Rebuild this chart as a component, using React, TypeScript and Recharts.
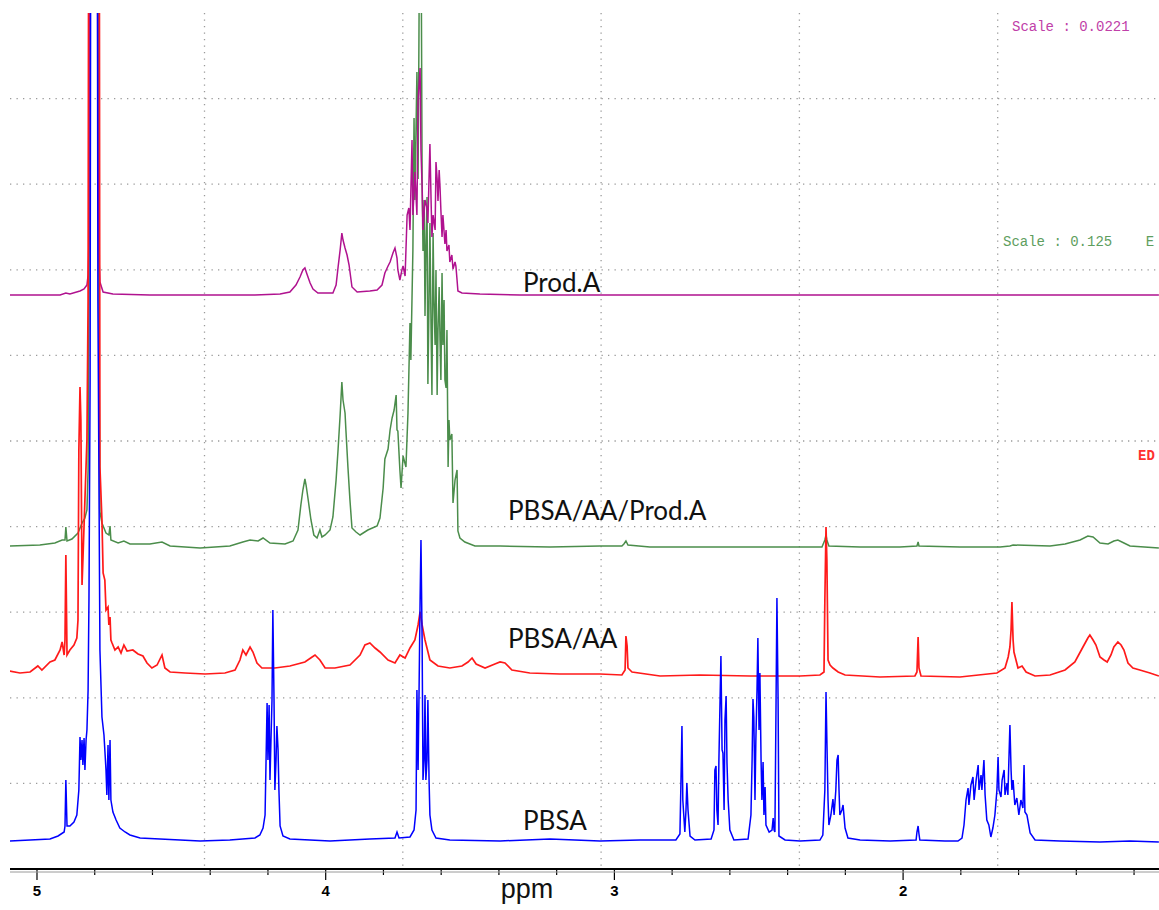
import { LineChart, Line, XAxis, YAxis, CartesianGrid } from 'recharts'

// ─── spectra: [ppm, intensity above own baseline] ───────────────────────────

const pbsa: [number, number][] = [
  [5.094, -1], [5.024, 0], [4.955, 1], [4.927, 4], [4.906, 8], [4.903, 14], [4.9, 60], [4.896, 14], [4.886, 14],
  [4.872, 18], [4.862, 25], [4.855, 50], [4.851, 103], [4.848, 80], [4.844, 100], [4.841, 75], [4.837, 102],
  [4.834, 70], [4.83, 100], [4.827, 110], [4.823, 150], [4.82, 240], [4.816, 460], [4.813, 1140], [4.792, 1140],
  [4.789, 540], [4.782, 190], [4.775, 123], [4.768, 105], [4.761, 70], [4.758, 45], [4.754, 95], [4.751, 40],
  [4.747, 100], [4.744, 40], [4.737, 28], [4.726, 20], [4.713, 12], [4.695, 8], [4.678, 5], [4.643, 2], [4.574, 1],
  [4.435, -1], [4.332, 0], [4.245, 2], [4.228, 5], [4.217, 12], [4.21, 25], [4.203, 137], [4.2, 80], [4.196, 135],
  [4.193, 60], [4.186, 140], [4.183, 230], [4.179, 140], [4.176, 50], [4.172, 80], [4.169, 114], [4.165, 90],
  [4.162, 50], [4.158, 14], [4.148, 4], [4.124, 1], [3.985, -1], [3.847, 1], [3.76, 2], [3.753, 8], [3.746, 2],
  [3.708, 3], [3.694, 10], [3.687, 30], [3.684, 150], [3.68, 70], [3.677, 140], [3.673, 240], [3.67, 300],
  [3.666, 200], [3.663, 60], [3.659, 80], [3.656, 145], [3.653, 60], [3.649, 80], [3.646, 140], [3.642, 60],
  [3.639, 25], [3.632, 10], [3.618, 2], [3.57, 0], [3.396, -1], [3.223, 1], [3.05, -1], [2.911, 0], [2.787, 0],
  [2.773, 6], [2.77, 50], [2.766, 114], [2.763, 40], [2.756, 8], [2.752, 30], [2.749, 57], [2.745, 30], [2.738, 4],
  [2.721, 0], [2.665, 1], [2.655, 10], [2.652, 70], [2.648, 74], [2.645, 30], [2.641, 15], [2.638, 80], [2.634, 140],
  [2.631, 184], [2.627, 90], [2.624, 87], [2.62, 30], [2.617, 120], [2.613, 144], [2.61, 77], [2.606, 40], [2.6, 10],
  [2.586, 0], [2.537, 1], [2.527, 25], [2.523, 80], [2.52, 141], [2.517, 123], [2.513, 40], [2.51, 100], [2.506, 150],
  [2.503, 202], [2.499, 110], [2.496, 167], [2.492, 80], [2.489, 40], [2.485, 78], [2.482, 25], [2.478, 53],
  [2.475, 15], [2.464, 8], [2.454, 10], [2.45, 22], [2.447, 10], [2.444, 8], [2.44, 140], [2.437, 242], [2.433, 140],
  [2.43, 4], [2.409, 0], [2.357, -1], [2.288, 0], [2.278, 5], [2.271, 50], [2.267, 148], [2.264, 100], [2.26, 40],
  [2.257, 15], [2.25, 25], [2.243, 41], [2.239, 25], [2.233, 50], [2.229, 80], [2.225, 85], [2.222, 50], [2.219, 25],
  [2.212, 30], [2.208, 35], [2.201, 12], [2.191, 2], [2.149, 0], [2.045, -1], [1.955, 0], [1.952, 8], [1.948, 14],
  [1.945, 6], [1.942, 0], [1.855, -1], [1.81, -1], [1.796, 2], [1.789, 15], [1.782, 40], [1.775, 52], [1.772, 35],
  [1.765, 55], [1.758, 63], [1.754, 40], [1.747, 60], [1.74, 75], [1.737, 50], [1.73, 65], [1.727, 50], [1.72, 80],
  [1.716, 45], [1.71, 20], [1.703, 15], [1.696, 3], [1.689, 12], [1.682, 25], [1.675, 50], [1.671, 83], [1.668, 50],
  [1.661, 43], [1.657, 60], [1.65, 70], [1.647, 45], [1.64, 57], [1.637, 45], [1.63, 115], [1.626, 70], [1.623, 50],
  [1.619, 60], [1.613, 35], [1.606, 42], [1.599, 25], [1.592, 40], [1.585, 32], [1.581, 75], [1.578, 28], [1.571, 25],
  [1.56, 7], [1.543, 0], [1.457, -1], [1.318, -2], [1.214, -1], [1.114, -2],
]

const pbsaAA: [number, number][] = [
  [5.094, 5], [5.059, 3], [5.024, 4], [4.997, 10], [4.983, 6], [4.955, 14], [4.938, 16], [4.92, 26], [4.913, 34],
  [4.906, 21], [4.903, 36], [4.9, 121], [4.896, 21], [4.886, 26], [4.872, 31], [4.862, 38], [4.858, 56], [4.855, 226],
  [4.851, 289], [4.848, 256], [4.844, 91], [4.841, 116], [4.834, 176], [4.827, 236], [4.823, 376], [4.82, 976],
  [4.785, 976], [4.782, 209], [4.775, 156], [4.771, 103], [4.765, 96], [4.761, 66], [4.754, 69], [4.751, 51],
  [4.747, 59], [4.744, 36], [4.74, 33], [4.73, 26], [4.719, 29], [4.709, 23], [4.699, 31], [4.688, 25], [4.668, 26],
  [4.65, 22], [4.633, 20], [4.619, 13], [4.602, 8], [4.584, 11], [4.567, 21], [4.557, 8], [4.539, 4], [4.487, 3],
  [4.418, 2], [4.349, 3], [4.314, 6], [4.297, 16], [4.287, 26], [4.276, 21], [4.262, 29], [4.252, 24], [4.238, 13],
  [4.221, 8], [4.176, 8], [4.124, 10], [4.072, 14], [4.047, 19], [4.037, 21], [4.02, 16], [4.002, 8], [3.968, 8],
  [3.916, 11], [3.881, 21], [3.864, 31], [3.847, 33], [3.829, 28], [3.812, 24], [3.784, 16], [3.76, 13], [3.743, 21],
  [3.725, 18], [3.708, 28], [3.691, 36], [3.68, 51], [3.673, 64], [3.666, 51], [3.656, 36], [3.639, 16], [3.611, 10],
  [3.57, 8], [3.528, 10], [3.507, 14], [3.493, 18], [3.479, 12], [3.448, 8], [3.414, 12], [3.396, 14], [3.379, 13],
  [3.355, 6], [3.293, 3], [3.189, 2], [3.05, 2], [2.974, 1], [2.963, 6], [2.96, 40], [2.956, 30], [2.953, 8],
  [2.939, 4], [2.842, 0], [2.704, 1], [2.53, 0], [2.357, 0], [2.288, 1], [2.274, 4], [2.271, 76], [2.267, 149],
  [2.264, 116], [2.26, 16], [2.253, 11], [2.243, 8], [2.225, 4], [2.201, 1], [2.08, -1], [1.959, 0], [1.952, 4],
  [1.948, 39], [1.945, 8], [1.938, 0], [1.803, -1], [1.675, 3], [1.647, 8], [1.636, 19], [1.63, 29], [1.626, 46],
  [1.623, 74], [1.619, 36], [1.616, 24], [1.609, 16], [1.602, 8], [1.588, 10], [1.574, 4], [1.543, 0], [1.491, 1],
  [1.439, 6], [1.405, 14], [1.377, 29], [1.36, 38], [1.353, 41], [1.342, 36], [1.332, 31], [1.318, 19], [1.304, 16],
  [1.293, 14], [1.28, 21], [1.27, 29], [1.256, 34], [1.245, 31], [1.235, 26], [1.221, 13], [1.204, 8], [1.18, 6],
  [1.145, 3], [1.114, 0],
]

const pbsaAAProdA: [number, number][] = [
  [5.094, 0], [4.99, 1], [4.938, 3], [4.913, 6], [4.903, 6], [4.9, 19], [4.896, 5], [4.879, 7], [4.858, 13],
  [4.844, 23], [4.834, 28], [4.827, 36], [4.823, 76], [4.82, 246], [4.816, 846], [4.789, 846], [4.785, 196],
  [4.782, 34], [4.775, 23], [4.761, 13], [4.751, 11], [4.747, 20], [4.744, 6], [4.719, 3], [4.699, 5], [4.678, 2],
  [4.609, 2], [4.567, 4], [4.539, 0], [4.435, -2], [4.332, 0], [4.287, 4], [4.262, 6], [4.234, 5], [4.217, 8],
  [4.193, 3], [4.141, 2], [4.113, 5], [4.096, 16], [4.086, 41], [4.079, 56], [4.072, 67], [4.068, 61], [4.061, 47],
  [4.051, 26], [4.041, 11], [4.03, 8], [4.02, 16], [4.013, 9], [4.002, 11], [3.985, 16], [3.975, 29], [3.964, 66],
  [3.957, 97], [3.95, 131], [3.944, 164], [3.94, 146], [3.933, 133], [3.93, 116], [3.923, 79], [3.916, 46],
  [3.909, 18], [3.895, 14], [3.881, 11], [3.854, 16], [3.822, 20], [3.812, 28], [3.801, 58], [3.795, 87],
  [3.784, 97], [3.777, 116], [3.77, 128], [3.763, 136], [3.756, 151], [3.753, 116], [3.75, 115], [3.743, 76],
  [3.739, 58], [3.732, 90], [3.722, 79], [3.715, 133], [3.708, 223], [3.705, 186], [3.698, 295], [3.694, 428],
  [3.691, 346], [3.684, 474], [3.68, 367], [3.677, 506], [3.673, 746], [3.67, 646], [3.666, 366], [3.663, 295],
  [3.659, 346], [3.656, 230], [3.653, 296], [3.649, 349], [3.646, 162], [3.642, 246], [3.639, 323], [3.635, 216],
  [3.632, 151], [3.628, 313], [3.625, 246], [3.621, 201], [3.618, 276], [3.614, 151], [3.611, 216], [3.607, 259],
  [3.604, 206], [3.601, 166], [3.597, 273], [3.594, 201], [3.59, 246], [3.587, 166], [3.583, 158], [3.58, 216],
  [3.576, 79], [3.573, 126], [3.57, 106], [3.563, 112], [3.559, 43], [3.552, 66], [3.545, 76], [3.542, 15],
  [3.535, 8], [3.518, 4], [3.483, 0], [3.396, 0], [3.223, -1], [3.05, 0], [2.974, 0], [2.967, 2], [2.96, 5],
  [2.953, 1], [2.877, -1], [2.704, -1], [2.496, -1], [2.357, -1], [2.281, -1], [2.271, 6], [2.267, 11], [2.264, 6],
  [2.257, 0], [2.149, -1], [2.011, -1], [1.952, 0], [1.948, 4], [1.945, 0], [1.803, -1], [1.664, -1], [1.63, 0],
  [1.619, 1], [1.491, 0], [1.439, 2], [1.387, 6], [1.36, 10], [1.342, 9], [1.318, 3], [1.29, 2], [1.27, 5],
  [1.256, 6], [1.235, 3], [1.214, 0], [1.114, -2],
]

const prodA: [number, number][] = [
  [5.094, 0], [4.92, 0], [4.9, 2], [4.886, 1], [4.851, 4], [4.837, 6], [4.827, 10], [4.823, 20], [4.82, 55],
  [4.816, 595], [4.792, 595], [4.789, 145], [4.785, 35], [4.782, 13], [4.771, 3], [4.737, 1], [4.609, 0], [4.245, 0],
  [4.158, 1], [4.124, 3], [4.103, 10], [4.089, 18], [4.079, 25], [4.072, 27], [4.065, 21], [4.054, 12], [4.044, 6],
  [4.027, 2], [3.975, 2], [3.964, 10], [3.957, 28], [3.95, 45], [3.944, 62], [3.94, 55], [3.933, 47], [3.926, 40],
  [3.919, 30], [3.909, 8], [3.891, 3], [3.847, 4], [3.822, 5], [3.805, 10], [3.795, 22], [3.784, 29], [3.777, 33],
  [3.767, 42], [3.76, 47], [3.753, 37], [3.75, 25], [3.743, 15], [3.736, 25], [3.732, 29], [3.725, 19], [3.722, 45],
  [3.718, 80], [3.712, 87], [3.708, 65], [3.701, 155], [3.698, 80], [3.691, 123], [3.684, 80], [3.68, 195],
  [3.673, 227], [3.67, 145], [3.666, 108], [3.663, 65], [3.656, 95], [3.649, 87], [3.646, 72], [3.639, 151],
  [3.635, 95], [3.632, 58], [3.628, 80], [3.621, 65], [3.618, 133], [3.614, 116], [3.611, 94], [3.607, 125],
  [3.604, 108], [3.601, 85], [3.597, 58], [3.594, 80], [3.587, 51], [3.583, 65], [3.58, 44], [3.573, 50],
  [3.57, 33], [3.563, 40], [3.559, 26], [3.552, 33], [3.549, 29], [3.545, 15], [3.542, 4], [3.528, 2], [3.466, 1],
  [3.327, 0], [2.704, 0], [2.011, 0], [1.114, 0],
]

const ppmTicks = [5, 4.8, 4.6, 4.4, 4.2, 4, 3.8, 3.6, 3.4, 3.2, 3, 2.8, 2.6, 2.4, 2.2, 2, 1.8, 1.6, 1.4, 1.2]
const ppmDomain: [number, number] = [1.1136, 5.0935]

// ─── layout ──────────────────────────────────────────────────────────────────

const W = 1159
const H = 910
const TOP = 13
const LEFT = 10
const AXIS_H = 41
const PLOT_H = H - TOP - AXIS_H

const hGrid = [1, 2, 3, 4, 5, 6, 7, 8, 9].map((k) => TOP + (k * PLOT_H) / 10)
const vGrid = [0, 1, 2, 3, 4].map((k) => 204.5 + k * 198.3)

const traces = [
  { name: 'PBSA/AA/Prod.A', pts: pbsaAAProdA, offset: 323, color: '#4b8d4b', width: 1.5 },
  { name: 'Prod.A', pts: prodA, offset: 574, color: '#b0128f', width: 1.5 },
  { name: 'PBSA/AA', pts: pbsaAA, offset: 193, color: '#ff1a1a', width: 1.7 },
  { name: 'PBSA', pts: pbsa, offset: 29, color: '#0000ff', width: 1.5 },
]

const toRows = (pts: [number, number][], off: number) => pts.map(([ppm, v]) => ({ ppm, v: v + off }))

function renderPpmTick(props: any) {
  const { x, y, payload } = props
  const v = payload.value as number
  const major = Math.abs(v - Math.round(v)) < 1e-6
  return (
    <g key={`t-${v}`}>
      <line x1={x} x2={x} y1={y} y2={y + (major ? 11 : 6)} stroke="#000" strokeWidth={1.2} />
      {major && (
        <text x={x} y={y + 27} textAnchor="middle" fontWeight={700} fill="#000"
          style={{ fontSize: 15, fontFamily: "'Liberation Sans', Arial, sans-serif" }}>{v}</text>
      )}
    </g>
  )
}

const labelFont = "Lato, 'Open Sans', sans-serif"
const monoFont = "'Liberation Mono', 'DejaVu Sans Mono', monospace"

export default function App() {
  return (
    <div style={{ position: 'absolute', left: 0, top: 0, width: W, height: H, overflow: 'hidden', background: '#fff' }}>
      <LineChart width={W} height={H} margin={{ top: TOP, right: 0, left: LEFT, bottom: 0 }}>
        <CartesianGrid stroke="#9a9a9a" strokeWidth={1.3} strokeDasharray="1.3 5.2"
          horizontalPoints={hGrid} verticalPoints={vGrid} />
        <XAxis type="number" dataKey="ppm" domain={ppmDomain} reversed allowDataOverflow
          ticks={ppmTicks} interval={0} height={AXIS_H} tickSize={0} tickMargin={0}
          axisLine={{ stroke: '#000', strokeWidth: 2 }} tickLine={false} tick={renderPpmTick} />
        <YAxis type="number" domain={[0, PLOT_H]} hide allowDataOverflow width={0} />
        {traces.map((t) => (
          <Line key={t.name} data={toRows(t.pts, t.offset)} dataKey="v" type="linear" stroke={t.color}
            strokeWidth={t.width} dot={false} activeDot={false} isAnimationActive={false} />
        ))}
      </LineChart>
      <svg width={W} height={H} style={{ position: 'absolute', left: 0, top: 0, pointerEvents: 'none' }}>
        <line x1={LEFT} x2={W} y1={872} y2={872} stroke="#9a9a9a" strokeWidth={1} />
        <text x={527} y={898} textAnchor="middle" fontSize={27} fontFamily="'Liberation Sans', Arial, sans-serif" fill="#111">ppm</text>
        <text x={523} y={292} fontSize={26} fontFamily={labelFont} fill="#111">Prod.A</text>
        <text x={508} y={520} fontSize={26} fontFamily={labelFont} fill="#111">PBSA/AA/Prod.A</text>
        <text x={508} y={648} fontSize={26} fontFamily={labelFont} fill="#111">PBSA/AA</text>
        <text x={523} y={830} fontSize={26} fontFamily={labelFont} fill="#111">PBSA</text>
        <text x={1012} y={31} fontSize={14} fontFamily={monoFont} fill="#c040a8" xmlSpace="preserve">Scale : 0.0221</text>
        <text x={1003} y={246} fontSize={14} fontFamily={monoFont} fill="#5e9e5e" xmlSpace="preserve">Scale : 0.125    E</text>
        <text x={1138} y={460} fontSize={14} fontFamily={monoFont} fill="#ff3030" fontWeight={700}>ED</text>
      </svg>
    </div>
  )
}
